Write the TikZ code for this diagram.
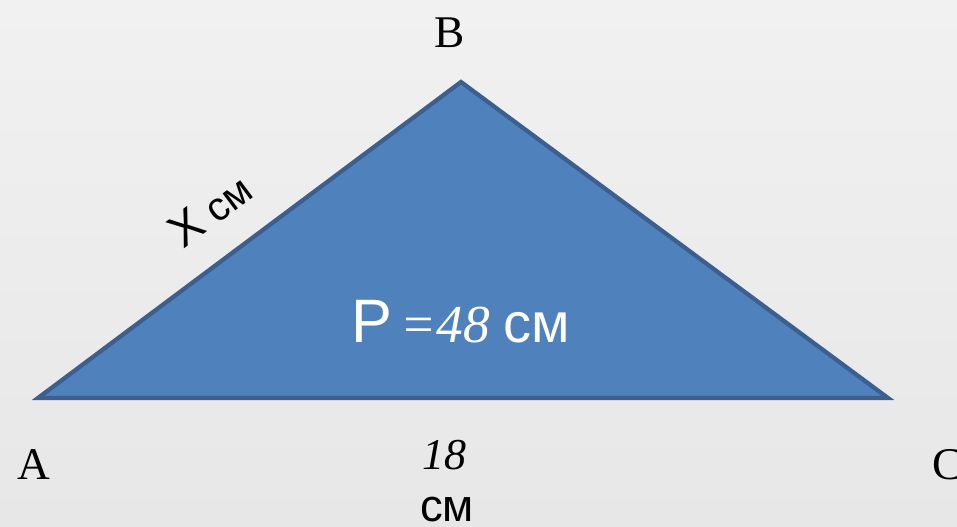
\documentclass[tikz,border=0pt]{standalone}
\usepackage{fontspec}
\setmainfont{Liberation Serif}
\setsansfont{Liberation Sans}
\usepackage{xcolor}
\usetikzlibrary{positioning, calc}
\definecolor{triblue}{HTML}{4F81BD}
\definecolor{triedge}{HTML}{3C5F8F}
\definecolor{bgtop}{HTML}{F1F1F1}
\definecolor{bgbot}{HTML}{E7E7E7}
\tikzset{
  vertex/.style={font=\fontsize{34}{36}\selectfont, text=black},
  side/.style={font=\fontsize{30}{32}\selectfont\sffamily, text=black},
  tri/.style={fill=triblue, draw=triedge, line width=3.2pt, line join=miter}
}

\begin{document}
\begin{tikzpicture}[x=0.75pt, y=-0.75pt]
        % Background
        \shade[top color=bgtop, bottom color=bgbot] (0,0) rectangle (957,526);
        \useasboundingbox (0,0) rectangle (957,526);
        \clip (0,0) rectangle (957,526);

        % Corners
        \coordinate (A) at (38,398);
        \coordinate (B) at (461,82);
        \coordinate (C) at (888,398);

        % Triangle
        \draw[tri] (A) -- (B) -- (C) -- cycle;

        % Vertex labels
        \node[vertex] (labA) at (34,465) {A};
        \node[vertex] (labB) at (450,33) {B};
        \node[vertex] (labC) at (948,465) {C};

        % Side labels
        \node[side, rotate=36.8] (sideAB) at (210,210) {{\fontsize{35}{36}\selectfont X} см};
        \node[font=\fontsize{33}{35}\selectfont\itshape] (base) at (444,455) {18};
        \node[side, font=\fontsize{34}{36}\selectfont\sffamily] (unit) at (447,510) {см};

        % Perimeter
        \node[text=white, font=\fontsize{40}{42}\selectfont] (perim) at (461,322)
          {{\sffamily\fontsize{46}{46}\selectfont P}\hspace{0.15em}{\itshape =48} {\sffamily\fontsize{42}{42}\selectfont см}};
    \end{tikzpicture}
\end{document}
